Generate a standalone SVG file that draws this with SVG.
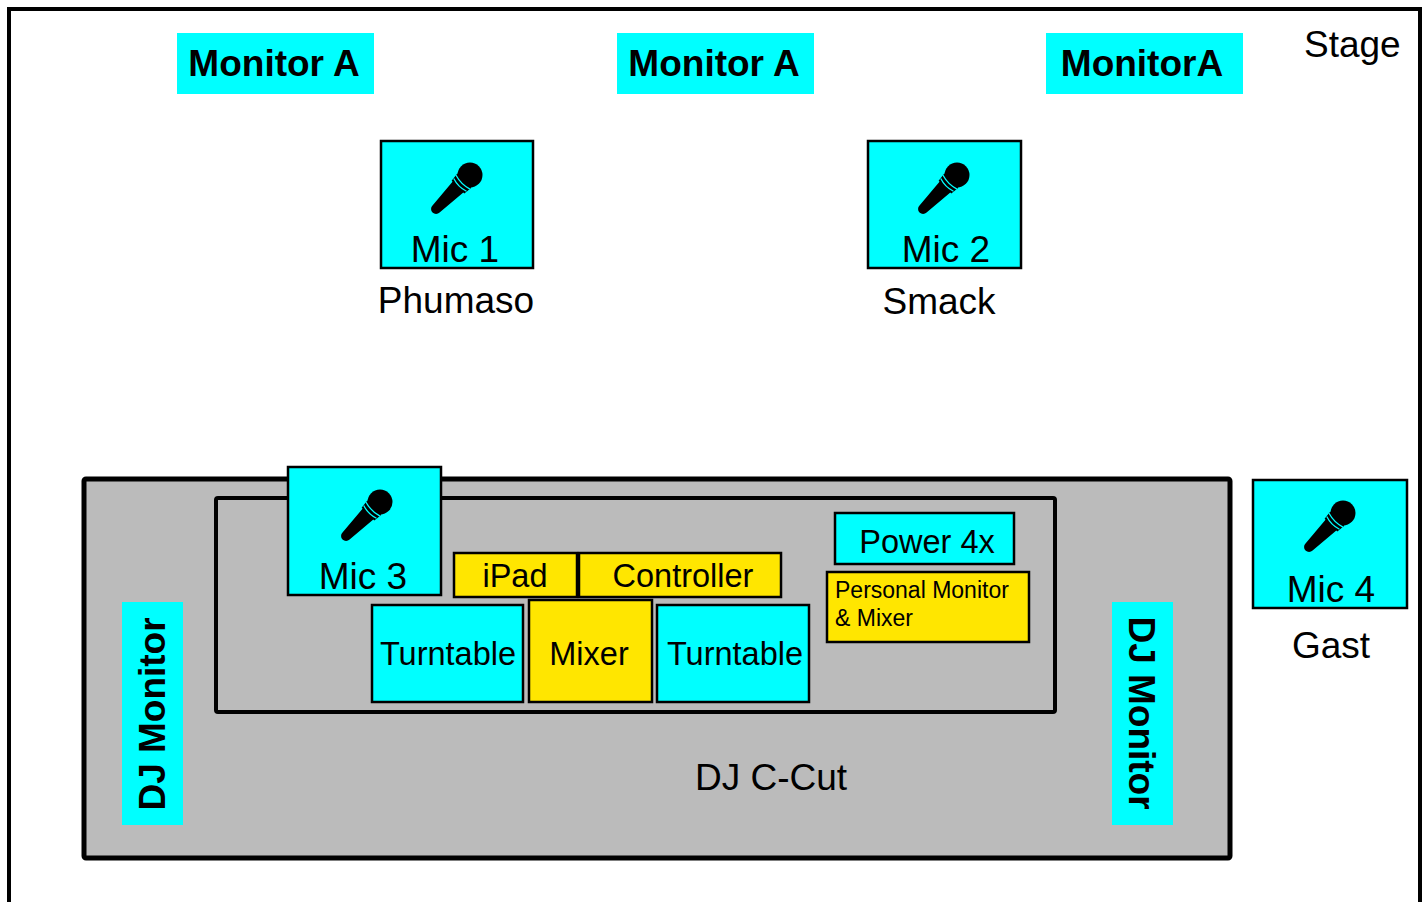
<svg xmlns="http://www.w3.org/2000/svg" width="1428" height="902" viewBox="0 0 1428 902">
<style>
text{font-family:"Liberation Sans",Arial,sans-serif;fill:#000}
.b{font-weight:bold;font-size:37px}
.r36{font-size:37px}
.r32{font-size:32.5px}
.c{text-anchor:middle}
.cy{fill:#00ffff}
.box{stroke:#000;stroke-width:2.5}
.yl{fill:#ffe600}
</style>
<defs>
<g id="mic">
<path d="M-8,12 L8,12 L5,48 A5,5 0 0 1 -5,48 Z" fill="#000"/>
<path d="M-10,8 L10,8 L9,17 L-9,17 Z" fill="#000"/>
<circle cx="0" cy="0" r="12.5" fill="#000"/>
<path d="M-10,10 Q0,13 10,10 M-9,14 Q0,17 9,14" fill="none" stroke="#00ffff" stroke-width="1.3"/>
</g>
</defs>
<rect width="1428" height="902" fill="#fff"/>
<g id="stage">
<rect x="9" y="9" width="1411" height="960" fill="none" stroke="#000" stroke-width="4"/>
<text class="r36" x="1304" y="57">Stage</text>
</g>
<g id="monitor-a-1">
<rect class="cy" x="177" y="33" width="197" height="61"/>
<text class="b c" x="274" y="76">Monitor A</text>
</g>
<g id="monitor-a-2">
<rect class="cy" x="617" y="33" width="197" height="61"/>
<text class="b c" x="714" y="76">Monitor A</text>
</g>
<g id="monitor-a-3">
<rect class="cy" x="1046" y="33" width="197" height="61"/>
<text class="b c" x="1142" y="76">MonitorA</text>
</g>
<g id="mic1">
<rect class="cy box" x="381" y="141" width="152" height="127"/>
<use href="#mic" transform="translate(470,175) rotate(45)"/>
<text class="r36 c" x="455" y="262">Mic 1</text>
<text class="r36 c" x="456" y="313">Phumaso</text>
</g>
<g id="mic2">
<rect class="cy box" x="868" y="141" width="153" height="127"/>
<use href="#mic" transform="translate(957,175) rotate(45)"/>
<text class="r36 c" x="946" y="262">Mic 2</text>
<text class="r36 c" x="939" y="314">Smack</text>
</g>
<g id="dj-area">
<rect x="84" y="479" width="1146" height="379" rx="2" fill="#bbbbbb" stroke="#000" stroke-width="5"/>
<text class="r36 c" x="771" y="790">DJ C-Cut</text>
</g>
<g id="dj-table">
<rect x="216" y="498" width="839" height="214" rx="2" fill="none" stroke="#000" stroke-width="4"/>
</g>
<g id="dj-monitor-left">
<rect class="cy" x="122" y="602" width="61" height="223"/>
<text class="b c" transform="translate(165,714) rotate(-90)">DJ Monitor</text>
</g>
<g id="dj-monitor-right">
<rect class="cy" x="1112" y="602" width="61" height="223"/>
<text class="b c" transform="translate(1129,713) rotate(90)">DJ Monitor</text>
</g>
<g id="mic3">
<rect class="cy box" x="288" y="467" width="153" height="128"/>
<use href="#mic" transform="translate(380,502) rotate(45)"/>
<text class="r36 c" x="363" y="589">Mic 3</text>
</g>
<g id="ipad">
<rect class="yl box" x="454" y="553" width="123" height="44"/>
<text class="r32 c" x="515" y="587">iPad</text>
</g>
<g id="controller">
<rect class="yl box" x="579" y="553" width="202" height="44"/>
<text class="r32 c" x="683" y="587">Controller</text>
</g>
<g id="turntable-left">
<rect class="cy box" x="372" y="605" width="151" height="97"/>
<text class="r32 c" x="448" y="665">Turntable</text>
</g>
<g id="mixer">
<rect class="yl box" x="529" y="600" width="123" height="102"/>
<text class="r32 c" x="589" y="665">Mixer</text>
</g>
<g id="turntable-right">
<rect class="cy box" x="657" y="605" width="152" height="97"/>
<text class="r32 c" x="735" y="665">Turntable</text>
</g>
<g id="power">
<rect class="cy box" x="835" y="513" width="179" height="51"/>
<text class="r32 c" x="927" y="553">Power 4x</text>
</g>
<g id="personal-monitor">
<rect class="yl box" x="827" y="572" width="202" height="70"/>
<text font-size="23"><tspan x="835" y="598">Personal Monitor</tspan><tspan x="835" y="626">&amp; Mixer</tspan></text>
</g>
<g id="mic4">
<rect class="cy box" x="1253" y="480" width="154" height="128"/>
<use href="#mic" transform="translate(1343,513) rotate(45)"/>
<text class="r36 c" x="1331" y="602">Mic 4</text>
<text class="r36 c" x="1331" y="658">Gast</text>
</g>
<g id="connectors"/>
</svg>
